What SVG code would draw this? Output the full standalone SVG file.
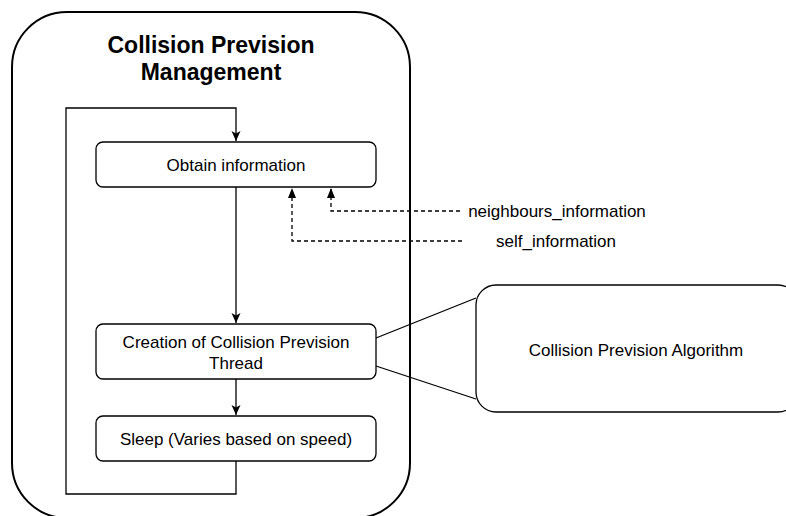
<svg xmlns="http://www.w3.org/2000/svg" width="786" height="516" viewBox="0 0 786 516">
<defs>
<style>
.box{fill:#fff;stroke:#000;stroke-width:1.3}
.t{font-family:"Liberation Sans",Arial,sans-serif;font-size:17px;fill:#000;text-anchor:middle}
.title{font-family:"Liberation Sans",Arial,sans-serif;font-size:23px;font-weight:bold;fill:#000;text-anchor:middle}
.c{fill:none;stroke:#000;stroke-width:1.3}
.d{fill:none;stroke:#000;stroke-width:1.3;stroke-dasharray:4 3}
</style>
<marker id="arr" markerWidth="10" markerHeight="10" viewBox="0 0 10 10" refX="10" refY="5" orient="auto" markerUnits="userSpaceOnUse">
<path d="M0,0.5 L10,5 L0,9.5 L2.5,5 Z" fill="#000"/>
</marker>
<marker id="blk" markerWidth="10" markerHeight="10" viewBox="0 0 10 10" refX="10" refY="5" orient="auto" markerUnits="userSpaceOnUse">
<path d="M0,1 L10,5 L0,9 Z" fill="#000"/>
</marker>
</defs>
<rect width="786" height="516" fill="#fff"/>
<g id="container">
<rect x="12" y="12" width="398" height="506" rx="55" ry="55" fill="none" stroke="#000" stroke-width="2"/>
<text class="title" x="211" y="53">Collision Prevision</text>
<text class="title" x="211" y="80">Management</text>
</g>
<g id="connectors">
<polyline class="c" points="236,461 236,494 66,494 66,108 236,108 236,141" marker-end="url(#arr)"/>
<line class="c" x1="236" y1="187" x2="236" y2="323" marker-end="url(#arr)"/>
<line class="c" x1="236" y1="379" x2="236" y2="415" marker-end="url(#arr)"/>
<polyline class="d" points="460,211 331,211 331,188" marker-end="url(#blk)"/>
<polyline class="d" points="462,241 292,241 292,188" marker-end="url(#blk)"/>
<line class="c" x1="376" y1="338" x2="476" y2="298"/>
<line class="c" x1="376" y1="366" x2="476" y2="399"/>
</g>
<g id="obtain">
<rect class="box" x="96" y="142" width="280" height="45" rx="7"/>
<text class="t" x="236" y="171">Obtain information</text>
</g>
<g id="creation">
<rect class="box" x="96" y="324" width="280" height="55" rx="7"/>
<text class="t" x="236" y="348">Creation of Collision Prevision</text>
<text class="t" x="236" y="369">Thread</text>
</g>
<g id="sleep">
<rect class="box" x="96" y="416" width="280" height="45" rx="7"/>
<text class="t" x="236" y="445">Sleep (Varies based on speed)</text>
</g>
<g id="algorithm">
<rect class="box" x="476" y="285" width="322" height="127" rx="20"/>
<text class="t" x="636" y="356">Collision Prevision Algorithm</text>
</g>
<g id="labels">
<text class="t" x="557" y="217">neighbours_information</text>
<text class="t" x="556" y="247">self_information</text>
</g>
</svg>
